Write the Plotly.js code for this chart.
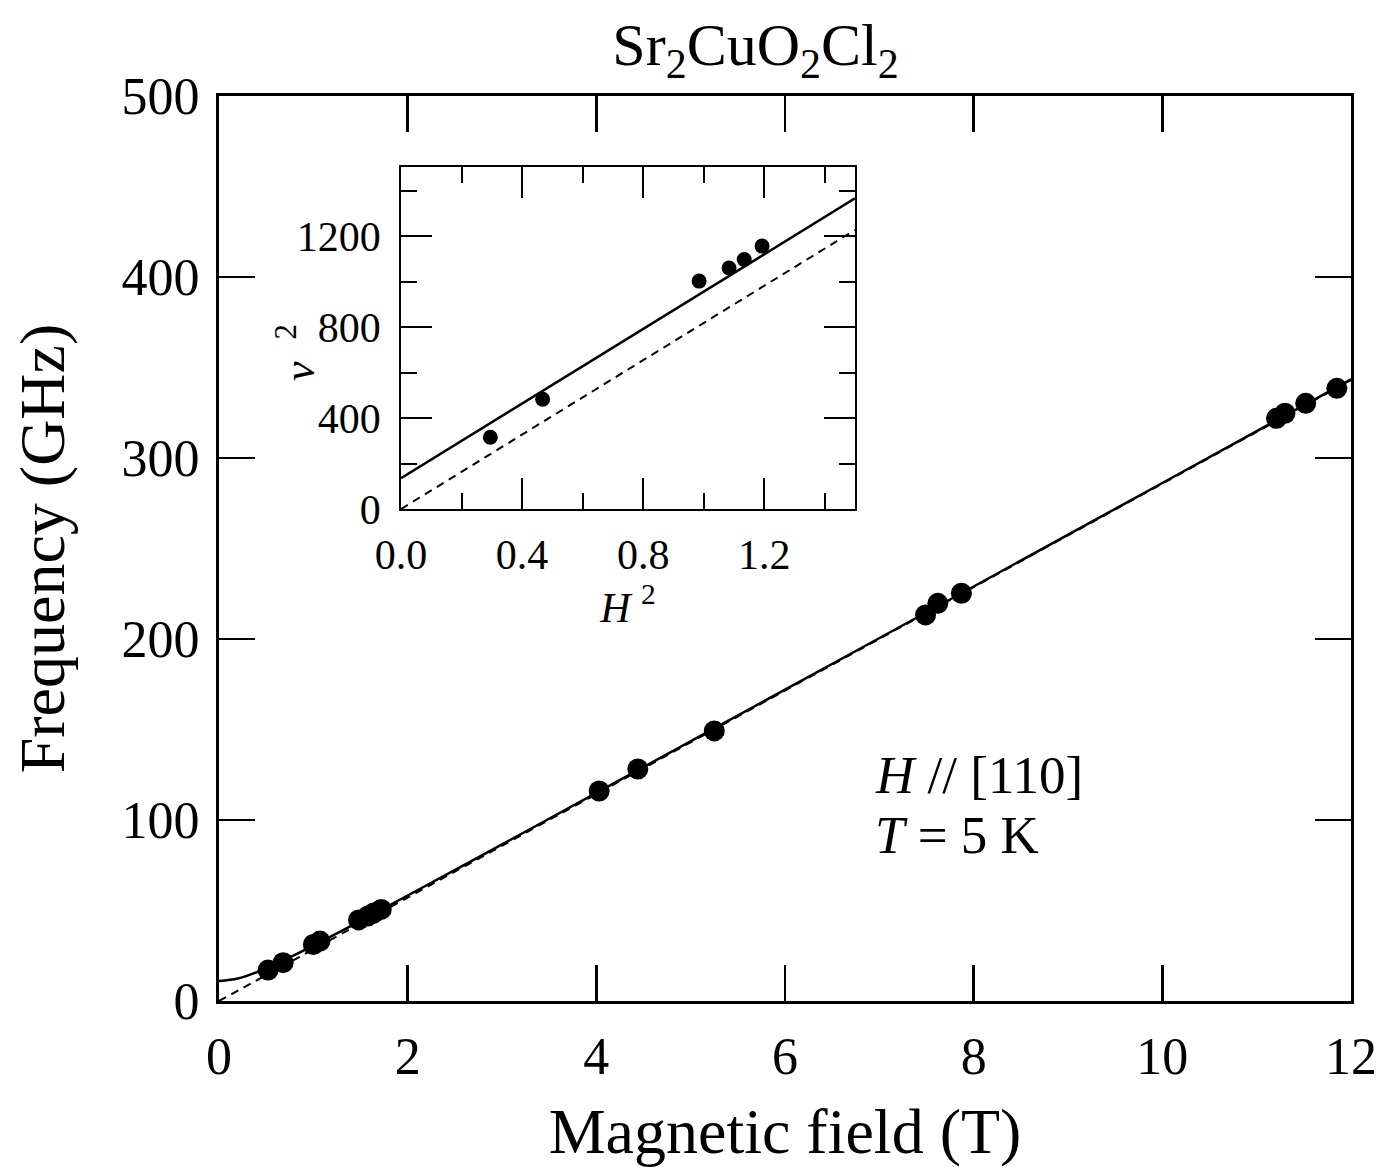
<!DOCTYPE html>
<html>
<head>
<meta charset="utf-8">
<script src="https://cdn.plot.ly/plotly-3.0.1.min.js"></script>
<style>html,body{margin:0;padding:0;background:#fff;}#chart{width:1384px;height:1167px;}</style>
</head>
<body>
<div id="chart"></div>
<script>
// Main panel: measured resonance points
const fieldT = [0.52, 0.68, 1.00, 1.07, 1.48, 1.58, 1.64, 1.72, 4.03, 4.44, 5.25, 7.49, 7.62, 7.87, 11.21, 11.30, 11.52, 11.85];
const freqGHz = [17.1, 21.2, 31.2, 33.1, 44.8, 47.0, 48.6, 50.6, 116.0, 128.2, 149.2, 213.3, 219.7, 225.3, 321.9, 324.7, 330.2, 338.5];
// Main panel: fit curve (solid)
const fitField = [0, 0.2, 0.4, 0.6, 0.8, 1.0, 1.5, 2, 3, 4, 6, 8, 10, 12];
const fitFreq = [11.0, 12.4, 15.9, 20.4, 25.4, 30.6, 44.3, 58.3, 86.5, 115.0, 172.0, 229.0, 286.2, 343.4];
// Main panel: dashed line (no gap)
const dashField = [0, 12];
const dashFreq = [0, 343];
// Inset: squared quantities
const insetH2 = [0.295, 0.468, 0.985, 1.084, 1.134, 1.193];
const insetNu2 = [316, 483, 1003, 1061, 1098, 1157];
const insetFitH2 = [0, 1.5];
const insetFitNu2 = [136, 1367];
const insetDashH2 = [0, 1.5];
const insetDashNu2 = [0, 1228];

const FONT = 'Liberation Serif, Times New Roman, serif';

const traces = [
  {x: dashField, y: dashFreq, mode: 'lines', line: {color: '#000', width: 2, dash: '8px,6px'}, xaxis: 'x', yaxis: 'y', hoverinfo: 'skip'},
  {x: fitField, y: fitFreq, mode: 'lines', line: {color: '#000', width: 2.5, shape: 'spline'}, xaxis: 'x', yaxis: 'y', hoverinfo: 'skip'},
  {x: fieldT, y: freqGHz, mode: 'markers', marker: {color: '#000', size: 21}, xaxis: 'x', yaxis: 'y'},
  {x: insetDashH2, y: insetDashNu2, mode: 'lines', line: {color: '#000', width: 2, dash: '8px,6px'}, xaxis: 'x2', yaxis: 'y2', hoverinfo: 'skip'},
  {x: insetFitH2, y: insetFitNu2, mode: 'lines', line: {color: '#000', width: 2.5}, xaxis: 'x2', yaxis: 'y2', hoverinfo: 'skip'},
  {x: insetH2, y: insetNu2, mode: 'markers', marker: {color: '#000', size: 15}, xaxis: 'x2', yaxis: 'y2'}
];

const layout = {
  width: 1384, height: 1167,
  paper_bgcolor: '#fff', plot_bgcolor: '#fff',
  showlegend: false,
  margin: {l: 219, r: 33, t: 96, b: 166},
  font: {family: FONT, color: '#000'},
  title: {text: 'Sr<sub>2</sub>CuO<sub>2</sub>Cl<sub>2</sub>', font: {family: FONT, size: 60, color: '#000'},
          xref: 'paper', x: 0.474, xanchor: 'center', yref: 'container', y: 0.962, yanchor: 'middle'},
  xaxis: {
    domain: [0, 1], range: [0, 12], dtick: 2, tick0: 0,
    showgrid: false, zeroline: false,
    showline: true, linecolor: '#000', linewidth: 3, mirror: 'ticks',
    ticks: 'inside', ticklen: 36, tickwidth: 2.5, tickcolor: '#000',
    ticklabelstandoff: 8,
    tickfont: {family: FONT, size: 52, color: '#000'},
    title: {text: 'Magnetic field (T)', font: {family: FONT, size: 64, color: '#000'}, standoff: 24}
  },
  yaxis: {
    domain: [0, 1], range: [0, 500], dtick: 100, tick0: 0,
    showgrid: false, zeroline: false,
    showline: true, linecolor: '#000', linewidth: 3, mirror: 'ticks',
    ticks: 'inside', ticklen: 36, tickwidth: 2.5, tickcolor: '#000',
    ticklabelstandoff: 6,
    tickfont: {family: FONT, size: 52, color: '#000'},
    title: {text: 'Frequency (GHz)', font: {family: FONT, size: 64, color: '#000'}, standoff: 37}
  },
  xaxis2: {
    domain: [0.1608, 0.5618], anchor: 'y2', range: [0, 1.5], dtick: 0.4, tick0: 0, tickformat: '.1f',
    showgrid: false, zeroline: false,
    showline: true, linecolor: '#000', linewidth: 2, mirror: 'ticks',
    ticks: 'inside', ticklen: 31, tickwidth: 2, tickcolor: '#000',
    ticklabelstandoff: 8,
    minor: {dtick: 0.2, tick0: 0, ticks: 'inside', ticklen: 16, tickwidth: 2, tickcolor: '#000', showgrid: false},
    tickfont: {family: FONT, size: 42, color: '#000'},
    title: {text: '<i>H</i> <sup>2</sup>', font: {family: FONT, size: 42, color: '#000'}, standoff: 0}
  },
  yaxis2: {
    domain: [0.5436, 0.9215], anchor: 'x2', range: [0, 1505], dtick: 400, tick0: 0,
    showgrid: false, zeroline: false,
    showline: true, linecolor: '#000', linewidth: 2, mirror: 'ticks',
    ticks: 'inside', ticklen: 31, tickwidth: 2, tickcolor: '#000',
    ticklabelstandoff: 10,
    minor: {dtick: 200, tick0: 0, ticks: 'inside', ticklen: 16, tickwidth: 2, tickcolor: '#000', showgrid: false},
    tickfont: {family: FONT, size: 42, color: '#000'}
  },
  annotations: [
    {text: '<i>ν</i>  <sup>2</sup>', xref: 'paper', yref: 'paper', x: 0.068, y: 0.717,
     xanchor: 'center', yanchor: 'middle', textangle: -90, showarrow: false,
     font: {family: FONT, size: 44, color: '#000'}},
    {text: '<i>H</i> // [110]', xref: 'paper', yref: 'paper',
     x: 0.578, y: 0.2497, xanchor: 'left', yanchor: 'middle', align: 'left', showarrow: false,
     font: {family: FONT, size: 53, color: '#000'}},
    {text: '<i>T</i> = 5 K', xref: 'paper', yref: 'paper',
     x: 0.578, y: 0.1834, xanchor: 'left', yanchor: 'middle', align: 'left', showarrow: false,
     font: {family: FONT, size: 53, color: '#000'}}
  ]
};

Plotly.newPlot('chart', traces, layout, {displayModeBar: false, staticPlot: true});
</script>
</body>
</html>
